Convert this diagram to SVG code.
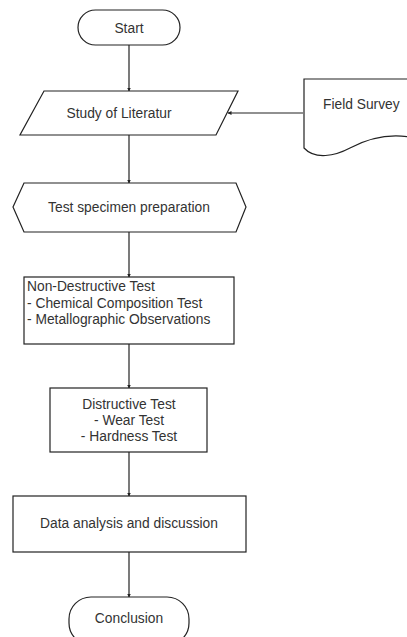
<svg xmlns="http://www.w3.org/2000/svg" width="407" height="637" viewBox="0 0 407 637">
<style>
.s{fill:#fff;stroke:#222;stroke-width:1.2}
.t{font-family:"Liberation Sans",Arial,sans-serif;font-size:13.8px;fill:#333}
.c{text-anchor:middle}
.l{fill:none;stroke:#222;stroke-width:1.2}
</style>
<defs>
<marker id="a" markerWidth="4" markerHeight="4" refX="3.5" refY="2" orient="auto" markerUnits="userSpaceOnUse">
<path d="M0,0 L4,2 L0,4 Z" fill="#222"/>
</marker>
</defs>
<rect width="407" height="637" fill="#fff"/>
<g id="connectors">
<path class="l" d="M129,45 V91" marker-end="url(#a)"/>
<path class="l" d="M303,113 H228" marker-end="url(#a)"/>
<path class="l" d="M129,135 V183" marker-end="url(#a)"/>
<path class="l" d="M129,232 V277" marker-end="url(#a)"/>
<path class="l" d="M129,344 V388" marker-end="url(#a)"/>
<path class="l" d="M129,452 V496" marker-end="url(#a)"/>
<path class="l" d="M129,552 V597" marker-end="url(#a)"/>
</g>
<g id="start">
<rect class="s" x="78" y="10" width="102" height="35" rx="17.5"/>
<text class="t c" x="129" y="33">Start</text>
</g>
<g id="study">
<polygon class="s" points="44,91 238,91 216,135 20,135"/>
<text class="t c" x="119" y="118">Study of Literatur</text>
</g>
<g id="field">
<path class="s" d="M304,79 H410 V137 C385,133 365,140 350,148 C335,156 315,160 304,148 Z"/>
<text class="t" x="323" y="109">Field Survey</text>
</g>
<g id="prep">
<polygon class="s" points="24,183 236,183 246,207 236,232 24,232 13,207"/>
<text class="t c" x="129" y="212">Test specimen preparation</text>
</g>
<g id="ndt">
<rect class="s" x="24" y="277" width="210" height="67"/>
<text class="t" x="27" y="291">Non-Destructive Test</text>
<text class="t" x="27" y="308">- Chemical Composition Test</text>
<text class="t" x="27" y="324">- Metallographic Observations</text>
</g>
<g id="dt">
<rect class="s" x="50" y="388" width="157" height="64"/>
<text class="t c" x="129" y="409">Distructive Test</text>
<text class="t c" x="129" y="425">- Wear Test</text>
<text class="t c" x="129" y="441">- Hardness Test</text>
</g>
<g id="data">
<rect class="s" x="13" y="496" width="233" height="56"/>
<text class="t c" x="129" y="528">Data analysis and discussion</text>
</g>
<g id="conclusion">
<rect class="s" x="69" y="597" width="120" height="48" rx="22"/>
<text class="t c" x="129" y="623">Conclusion</text>
</g>
</svg>
